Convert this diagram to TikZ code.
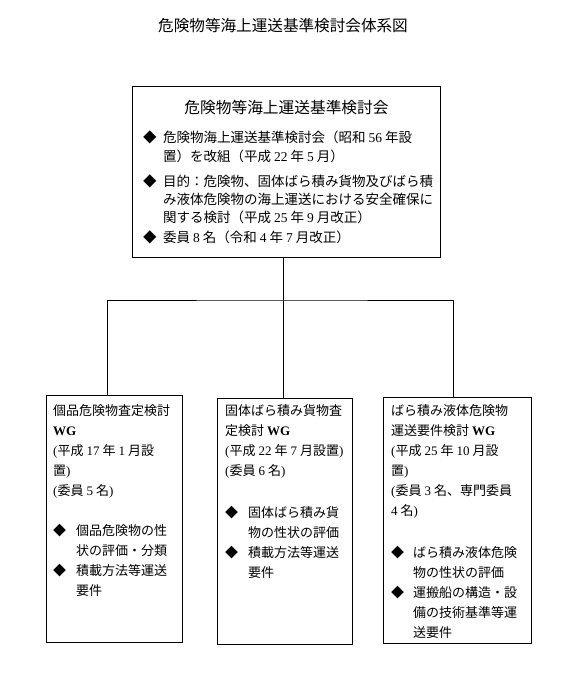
\documentclass[tikz,border=0pt]{standalone}
\usepackage{fontspec}
\usepackage{tikz}
\usepackage{xcolor}
\setmainfont{Noto Sans CJK JP}
\newfontfamily\timesf{Liberation Serif}
\newcommand\suji[1]{\hspace{3pt}{\timesf #1}\hspace{3pt}}

\begin{document}
\begin{tikzpicture}[x=1pt,y=-1pt,
    box/.style={draw,line width=1pt,inner sep=0pt,anchor=north west},
    txt/.style={inner sep=0pt,anchor=north west,align=left,font=\fontsize{13}{20}\selectfont},
    conn/.style={line width=1pt}]
    \useasboundingbox (0,0) rectangle (571,674);

    \node[font=\fontsize{15.6}{18}\selectfont] (title) at (283,26) {危険物等海上運送基準検討会体系図};

    % 検討会
    \node[box,minimum width=308pt,minimum height=171pt] (kentokai) at (132,86) {};
    \node[font=\fontsize{15.7}{18}\selectfont] (kentokai-name) at ([yshift=-22pt]kentokai.north) {危険物等海上運送基準検討会};
    \node[txt,font=\fontsize{13.5}{18.3}\selectfont] (kentokai-text) at ([xshift=11pt,yshift=-45pt]kentokai.north west) {%
        \makebox[20pt][l]{◆}危険物海上運送基準検討会（昭和\suji{56}年設\\
        \hspace*{20pt}置）を改組（平成\suji{22}年\suji{5}月）\\[6.7pt]
        \makebox[20pt][l]{◆}目的：危険物、固体ばら積み貨物及びばら積\\
        \hspace*{20pt}み液体危険物の海上運送における安全確保に\\
        \hspace*{20pt}関する検討（平成\suji{25}年\suji{9}月改正）\\[1.7pt]
        \makebox[20pt][l]{◆}委員\suji{8}名（令和\suji{4}年\suji{7}月改正）};

    % WG
    \node[box,minimum width=136pt,minimum height=247pt] (wg1) at (46,395) {};
    \node[box,minimum width=135pt,minimum height=246pt] (wg2) at (217,398) {};
    \node[box,minimum width=148pt,minimum height=246pt] (wg3) at (383,397) {};

    \node[txt] (wg1-text) at ([xshift=7pt,yshift=-9pt]wg1.north west) {%
        個品危険物査定検討\\
        {\timesf\bfseries WG}\\
        {\timesf (}平成\suji{17}年\suji{1}月設\\
        置{\timesf )}\\
        {\timesf (}委員\suji{5}名{\timesf )}\\[20pt]
        \makebox[23pt][l]{◆}個品危険物の性\\
        \hspace*{23pt}状の評価・分類\\
        \makebox[23pt][l]{◆}積載方法等運送\\
        \hspace*{23pt}要件};
    \node[txt] (wg2-text) at ([xshift=8pt,yshift=-6pt]wg2.north west) {%
        固体ばら積み貨物査\\
        定検討\suji{\bfseries WG}\\
        {\timesf (}平成\suji{22}年\suji{7}月設置{\timesf )}\\
        {\timesf (}委員\suji{6}名{\timesf )}\\[22pt]
        \makebox[23pt][l]{◆}固体ばら積み貨\\
        \hspace*{23pt}物の性状の評価\\
        \makebox[23pt][l]{◆}積載方法等運送\\
        \hspace*{23pt}要件};
    \node[txt] (wg3-text) at ([xshift=8pt,yshift=-7pt]wg3.north west) {%
        ばら積み液体危険物\\
        運送要件検討\suji{\bfseries WG}\\
        {\timesf (}平成\suji{25}年\suji{10}月設\\
        置{\timesf )}\\
        {\timesf (}委員\suji{3}名、専門委員\\
        {\timesf 4}\hspace{3pt}名{\timesf )}\\[22pt]
        \makebox[22pt][l]{◆}ばら積み液体危険\\
        \hspace*{22pt}物の性状の評価\\
        \makebox[22pt][l]{◆}運搬船の構造・設\\
        \hspace*{22pt}備の技術基準等運\\
        \hspace*{22pt}送要件};

    % 接続線
    \coordinate (hub) at ([xshift=-3pt,yshift=-42pt]kentokai.south);
    \draw[conn] ([xshift=-3pt]kentokai.south) -- (hub);
    \draw[conn] ([xshift=-7pt]wg1.north) |- (hub) -| ([xshift=-4pt]wg3.north);
    \draw[conn] (hub) -- (hub |- wg2.north);
\end{tikzpicture}
\end{document}
